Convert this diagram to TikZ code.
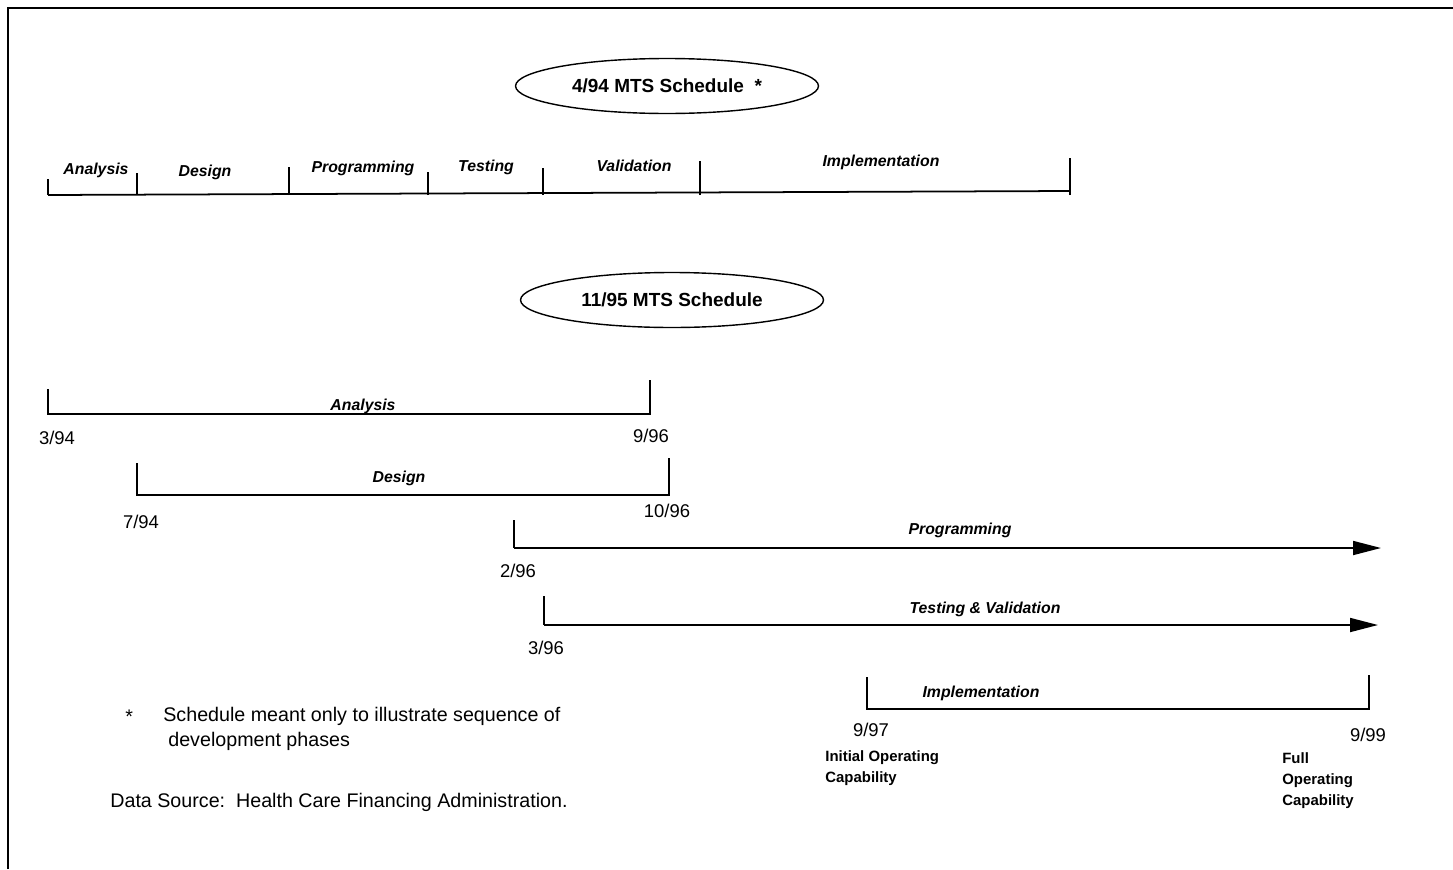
\documentclass[tikz,border=0pt]{standalone}
\usepackage{fontspec}
\setmainfont{Liberation Sans}
\usepackage{tikz}
\usetikzlibrary{calc,shapes,positioning}
\usetikzlibrary{arrows.meta}
\tikzset{>={Triangle[length=5.6mm,width=2.8mm]}}

\begin{document}
\begin{tikzpicture}[x=0.02cm, y=-0.02cm]
        \tikzstyle{sched} = [thick, draw=black, ellipse, inner sep = 0pt, minimum width = 6.06cm, minimum height = 1.1cm, font=\fontsize{10.8}{12}\selectfont\bfseries]
        \tikzstyle{phase} = [inner sep = 0pt, font=\fontsize{9}{11}\selectfont\bfseries\itshape]
        \tikzstyle{date} = [inner sep = 0pt, font=\fontsize{10.5}{12}\selectfont]
        \tikzstyle{capnote} = [inner sep = 0pt, align=left, anchor=north west, font=\fontsize{8.5}{12}\selectfont\bfseries]
        \tikzstyle{txt} = [inner sep = 0pt, anchor=west, font=\fontsize{11.2}{13}\selectfont]
        \tikzstyle{bar} = [line width=1pt]

        \useasboundingbox (0,0) rectangle (1453,869);
        % frame
        \draw[line width=1.2pt] (8,869) -- (8,8) -- (1453,8);

        % 4/94 schedule
        \node[sched] (s94) at (667,86) {4/94 MTS Schedule~~*};

        \coordinate (t0) at (48,195);
        \coordinate (t6) at (1070,191);
        \draw[bar] (t0) -- (t6);
        \foreach \x/\t in {48/179, 137/173, 289/167, 428/172, 543/168, 700/161, 1070/158}
          \draw[bar] (\x,195) -- (\x,\t);

        \node[phase] (pa) at (96,170) {Analysis};
        \node[phase] (pd) at (205,172) {Design};
        \node[phase] (pp) at (363,168) {Programming};
        \node[phase] (pt) at (486,167) {Testing};
        \node[phase] (pv) at (634,166) {Validation};
        \node[phase] (pi) at (881,162) {Implementation};

        % 11/95 schedule
        \node[sched] (s95) at (672,300) {11/95 MTS Schedule};

        % analysis
        \coordinate (a1) at (48,389);
        \coordinate (a2) at (48,414);
        \coordinate (a3) at (650,414);
        \coordinate (a4) at (650,380);
        \draw[bar] (a1) -- (a2) -- (a3) -- (a4);
        \node[phase] (la) at (363,406) {Analysis};
        \node[date] (da1) at (57,438) {3/94};
        \node[date] (da2) at (651,436) {9/96};

        % design
        \coordinate (d1) at (137,463);
        \coordinate (d2) at (137,495);
        \coordinate (d3) at (669,495);
        \coordinate (d4) at (669,458);
        \draw[bar] (d1) -- (d2) -- (d3) -- (d4);
        \node[phase] (ld) at (399,478) {Design};
        \node[date] (dd1) at (141,522) {7/94};
        \node[date] (dd2) at (667,511) {10/96};

        % programming
        \coordinate (p1) at (514,520);
        \coordinate (p2) at (514,548);
        \coordinate (p3) at (1381,548);
        \draw[bar] (p1) -- (p2);
        \draw[bar,->] (p2) -- (p3);
        \node[phase] (lp) at (960,530) {Programming};
        \node[date] (dp1) at (518,571) {2/96};

        % testing & validation
        \coordinate (v1) at (544,596);
        \coordinate (v2) at (544,625);
        \coordinate (v3) at (1378,625);
        \draw[bar] (v1) -- (v2);
        \draw[bar,->] (v2) -- (v3);
        \node[phase] (lv) at (985,609) {Testing \& Validation};
        \node[date] (dv1) at (546,648) {3/96};

        % implementation
        \coordinate (i1) at (867,677);
        \coordinate (i2) at (867,709);
        \coordinate (i3) at (1369,709);
        \coordinate (i4) at (1369,675);
        \draw[bar] (i1) -- (i2) -- (i3) -- (i4);
        \node[phase] (li) at (981,693) {Implementation};
        \node[date] (di1) at (871,730) {9/97};
        \node[date] (di2) at (1368,735) {9/99};
        \node[capnote] (ioc) at (825,750) {Initial Operating\\Capability};
        \node[capnote] (foc) at (1282,752) {Full\\Operating\\Capability};

        % notes
        \node[txt] (star) at (125,717) {*};
        \node[txt] (n1) at (163,716) {Schedule meant only to illustrate sequence of};
        \node[txt] (n2) at (168,741) {development phases};
        \node[txt] (src) at (110,802) {Data Source:~~Health Care Financing Administration.};
\end{tikzpicture}
\end{document}
